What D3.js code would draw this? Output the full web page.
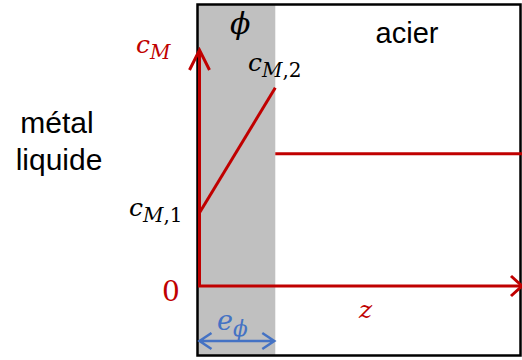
<!DOCTYPE html>
<html><head><meta charset="utf-8">
<script src="https://cdn.jsdelivr.net/npm/d3@7"></script>
<style>html,body{margin:0;padding:0;background:#fff;}svg{display:block;}</style>
</head><body>
<svg id="c" width="522" height="360"></svg>
<script>
// ---- data ----
const zDomain = [0, 10];          // depth z (arbitrary units), 0 = liquid/phase interface
const cDomain = [0, 1];           // concentration c_M (normalised)
const ePhi = 2.35;                // thickness of phase phi
const phaseZ = [0, ePhi];         // concentration profile inside phi
const phaseC = [0.31, 0.84];      // c_M,1 -> c_M,2
const steelZ = [ePhi, 10];        // profile in steel
const steelC = [0.56, 0.56];
const regionLabels = ["métal", "liquide"];
const steelLabel = "acier";

const svg = d3.select("#c");
const x = d3.scaleLinear().domain(zDomain).range([199.5, 522]);
const y = d3.scaleLinear().domain(cDomain).range([286, 50]);

const RED = "#c00000", BLUE = "#4472c4";
const fTop = 4.5, fBot = 355.5, frameL = 197.5, frameR = 520.5;

// gray phase band
svg.append("rect").attr("x", frameL).attr("y", fTop)
  .attr("width", x(ePhi) - frameL).attr("height", fBot - fTop).attr("fill", "#c0c0c0");

// frame
svg.append("rect").attr("x", frameL).attr("y", fTop)
  .attr("width", frameR - frameL).attr("height", fBot - fTop)
  .attr("fill", "none").attr("stroke", "#000").attr("stroke-width", 2.5);

const line = d3.line().x(d => x(d[0])).y(d => y(d[1]));

// axes (red)
svg.append("path").attr("d", line([[0, cDomain[1]], [0, 0], [zDomain[1], 0]]))
  .attr("fill", "none").attr("stroke", RED).attr("stroke-width", 3);
// vertical arrowhead
svg.append("path").attr("d", `M${x(0)-10},${y(1)+20} L${x(0)},${y(1)} L${x(0)+10},${y(1)+20}`)
  .attr("fill", "none").attr("stroke", RED).attr("stroke-width", 3);
// horizontal arrowhead
svg.append("path").attr("d", `M${x(10)-11},${y(0)-10} L${x(10)},${y(0)} L${x(10)-11},${y(0)+10}`)
  .attr("fill", "none").attr("stroke", RED).attr("stroke-width", 3);

// profiles
svg.append("path").attr("d", line(phaseZ.map((z, i) => [z, phaseC[i]])))
  .attr("fill", "none").attr("stroke", RED).attr("stroke-width", 3);
svg.append("path").attr("d", line(steelZ.map((z, i) => [z, steelC[i]])))
  .attr("fill", "none").attr("stroke", RED).attr("stroke-width", 3);

// thickness double arrow (blue)
const ay = 341, x0 = x(0), x1 = x(ePhi) - 1;
svg.append("path").attr("d", `M${x0},${ay} L${x1},${ay} M${x0+12},${ay-8} L${x0},${ay} L${x0+12},${ay+8} M${x1-12},${ay-8} L${x1},${ay} L${x1-12},${ay+8}`)
  .attr("fill", "none").attr("stroke", BLUE).attr("stroke-width", 2.5);

// text
const sans = "'Liberation Sans', Arial, sans-serif";
const serif = "'DejaVu Serif', serif";
svg.append("text").attr("x", 57).attr("y", 133).attr("text-anchor", "middle")
  .attr("font-family", sans).attr("font-size", 30).text(regionLabels[0]);
svg.append("text").attr("x", 59).attr("y", 170).attr("text-anchor", "middle")
  .attr("font-family", sans).attr("font-size", 30).text(regionLabels[1]);
svg.append("text").attr("x", 407).attr("y", 43).attr("text-anchor", "middle")
  .attr("font-family", sans).attr("font-size", 29).text(steelLabel);

function mathLabel(px, py, main, sub, color, size, subScale) {
  const t = svg.append("text").attr("x", px).attr("y", py)
    .attr("font-family", serif).attr("font-style", "italic").attr("font-size", size).attr("fill", color);
  t.append("tspan").text(main);
  if (sub) {
    const s = t.append("tspan").attr("dy", size * 0.22).attr("font-size", size * (subScale || 0.8));
    sub.forEach(p => s.append("tspan").attr("font-style", p.it ? "italic" : "normal").text(p.t));
  }
  return t;
}
mathLabel(136, 53, "c", [{t: "M", it: true}], RED, 25);
mathLabel(248, 71, "c", [{t: "M", it: true}, {t: ",2", it: false}], "#000", 25);
mathLabel(129, 216, "c", [{t: "M", it: true}, {t: ",1", it: false}], "#000", 25);
mathLabel(230, 34, "ϕ", null, "#000", 30);
svg.append("text").attr("x", 162).attr("y", 301).attr("font-family", serif)
  .attr("font-size", 28).attr("fill", RED).text("0");
mathLabel(359, 318, "z", null, RED, 25);
mathLabel(217, 330, "e", [{t: "ϕ", it: true}], BLUE, 27);
</script>
</body></html>
